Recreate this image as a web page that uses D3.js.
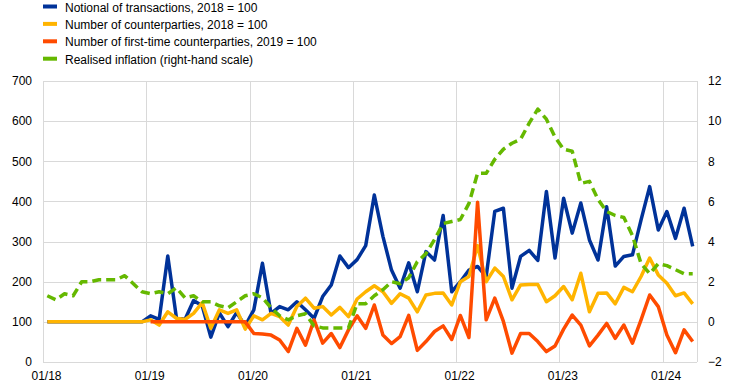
<!DOCTYPE html>
<html>
<head>
<meta charset="utf-8">
<script src="https://cdn.jsdelivr.net/npm/d3@7"></script>
<style>
  html, body { margin: 0; padding: 0; background: #fff; }
  svg { display: block; font-family: "Liberation Sans", Arial, sans-serif; }
</style>
</head>
<body>
<svg id="chart" width="742" height="387"></svg>
<script>
// ---- data (monthly, Jan 2018 – Apr 2024) ----
const months = d3.range(76).map(i => {
  const y = 2018 + Math.floor(i / 12), m = i % 12 + 1;
  return (m < 10 ? "0" + m : "" + m) + "/" + String(y).slice(2);
});
const tickLabels = ["01/18", "01/19", "01/20", "01/21", "01/22", "01/23", "01/24"];
const leftTicks = [0, 100, 200, 300, 400, 500, 600, 700];
const rightTicks = [-2, 0, 2, 4, 6, 8, 10, 12];

const notional = [
  100,100,100,100,100,100,100,100,100,100,100,100,
  115,106,264,111,106,153,140,62,122,88,123,90,
  130,246,121,138,130,150,130,109,163,192,264,235,
  255,290,416,313,229,184,247,175,275,254,365,175,
  200,229,238,213,375,383,184,263,278,253,425,259,
  408,321,396,304,254,387,239,263,267,354,437,329,
  375,308,383,288
];
const counterparties = [
  100,100,100,100,100,100,100,100,100,100,100,100,
  105,92,125,109,106,121,148,84,130,121,130,82,
  115,105,121,113,92,138,159,134,138,117,136,113,
  157,175,190,175,146,170,159,125,167,171,172,142,
  200,213,290,200,234,213,155,192,193,193,150,165,
  188,155,221,125,171,172,145,186,175,213,259,217,
  196,165,172,145
];
const firstTime = [
  null,null,null,null,null,null,null,null,null,null,null,null,
  100,100,100,100,100,100,100,100,100,100,100,100,
  71,70,67,55,26,84,42,105,47,71,36,80,
  115,84,142,67,46,63,116,29,51,76,90,56,
  116,61,398,105,159,101,22,71,71,51,26,40,
  82,117,92,40,67,96,59,92,47,105,167,138,
  67,23,80,51
];
const inflation = [
  1.3,1.1,1.4,1.3,2.0,2.0,2.1,2.1,2.1,2.3,1.9,1.5,
  1.4,1.5,1.4,1.7,1.2,1.3,1.0,1.0,0.8,0.7,1.0,1.3,
  1.4,1.2,0.7,0.3,0.1,0.3,0.4,-0.2,-0.3,-0.3,-0.3,-0.3,
  0.9,0.9,1.3,1.6,2.0,1.9,2.2,3.0,3.4,4.1,4.9,5.0,
  5.1,5.9,7.4,7.4,8.1,8.6,8.9,9.1,9.9,10.6,10.1,9.2,
  8.6,8.5,6.9,7.0,6.1,5.5,5.3,5.2,4.3,2.9,2.4,2.9,
  2.8,2.6,2.4,2.4
];

const seriesNames = [
  "Notional of transactions, 2018 = 100",
  "Number of counterparties, 2018 = 100",
  "Number of first-time counterparties, 2019 = 100",
  "Realised inflation (right-hand scale)"
];
const colors = ["#003299", "#FFB400", "#FF4B00", "#65B800"];

// ---- layout ----
const svg = d3.select("#chart");
const L = 43, R = 697, T = 81, B = 362;
const x = d3.scaleLinear().domain([0, months.length]).range([L, R]);
const yL = d3.scaleLinear().domain([0, 700]).range([B, T]);
const yR = d3.scaleLinear().domain([-2, 12]).range([B, T]);

// grid
const grid = svg.append("g");
grid.selectAll("line.h").data(leftTicks).join("line")
  .attr("x1", L).attr("x2", R)
  .attr("y1", d => Math.round(yL(d)) + 0.5).attr("y2", d => Math.round(yL(d)) + 0.5)
  .attr("stroke", "#d9d9d9").attr("stroke-width", 1);
const vIdx = tickLabels.map(t => months.indexOf(t)).concat([months.length]);
grid.selectAll("line.v").data(vIdx).join("line")
  .attr("x1", d => Math.round(x(d)) + 0.5).attr("x2", d => Math.round(x(d)) + 0.5)
  .attr("y1", T).attr("y2", B)
  .attr("stroke", "#d9d9d9").attr("stroke-width", 1);

// axes (text only)
const axL = svg.append("g").attr("transform", `translate(${L},0)`)
  .call(d3.axisLeft(yL).tickValues(leftTicks).tickSize(0).tickPadding(11));
const axR = svg.append("g").attr("transform", `translate(${R},0)`)
  .call(d3.axisRight(yR).tickValues(rightTicks).tickSize(0).tickPadding(11).tickFormat(d3.format("d")));
const axB = svg.append("g").attr("transform", `translate(0,${B})`)
  .call(d3.axisBottom(x).tickValues(tickLabels.map(t => months.indexOf(t)))
    .tickFormat(i => months[i]).tickSize(0).tickPadding(9));
[axL, axR, axB].forEach(a => {
  a.select(".domain").remove();
  a.selectAll("text").attr("font-size", 12).attr("fill", "#000")
    .attr("font-family", "'Liberation Sans', Arial, sans-serif");
});
axB.selectAll("text").attr("dx", 3);

// lines
const lineL = d3.line().defined(d => d != null).x((d, i) => x(i + 0.5)).y(d => yL(d));
const lineR = d3.line().defined(d => d != null).x((d, i) => x(i + 0.5)).y(d => yR(d));

const plots = [
  {data: notional, gen: lineL, color: colors[0]},
  {data: counterparties, gen: lineL, color: colors[1]},
  {data: firstTime, gen: lineL, color: colors[2]},
  {data: inflation, gen: lineR, color: colors[3], dash: "9,5"}
];
plots.forEach(p => {
  svg.append("path").datum(p.data)
    .attr("d", p.gen)
    .attr("fill", "none")
    .attr("stroke", p.color)
    .attr("stroke-width", 3.5)
    .attr("stroke-linejoin", "round")
    .attr("stroke-dasharray", p.dash || null);
});

// legend
const lg = svg.append("g");
seriesNames.forEach((name, k) => {
  const cy = 7 + k * 17.4;
  lg.append("rect").attr("x", 43).attr("y", cy - 2.5).attr("width", 14).attr("height", 4)
    .attr("fill", colors[k]);
  lg.append("text").attr("x", 65).attr("y", cy + 4.5)
    .attr("font-size", 12).attr("fill", "#000").text(name);
});
</script>
</body>
</html>
